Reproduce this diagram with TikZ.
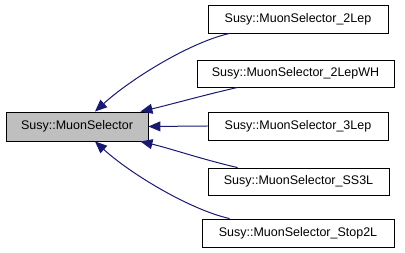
\documentclass[tikz,border=0pt]{standalone}
\usepackage{fontspec}
\setmainfont{Liberation Sans}
\usetikzlibrary{arrows.meta}
\definecolor{edgeblue}{HTML}{191970}
\definecolor{basefill}{HTML}{BFBFBF}
\begin{document}
\begin{tikzpicture}[x=1pt,y=-1pt,
  classbox/.style={draw=black,line width=0.9pt,rectangle,inner sep=0pt,minimum height=28pt,
    font=\fontsize{12.5}{14}\selectfont},
  inherit/.style={draw=edgeblue,line width=1pt,
    -{Triangle[length=12pt,width=10pt]},fill=none}]
\useasboundingbox (0,0) rectangle (405,253);
\node[classbox,fill=basefill,minimum width=142pt,minimum height=29pt] (base) at (77,126.5) {Susy::MuonSelector};
\node[classbox,minimum width=180pt] (c1) at (298,19) {Susy::MuonSelector\_2Lep};
\node[classbox,minimum width=197pt,minimum height=27pt] (c2) at (295.5,73.5) {Susy::MuonSelector\_2LepWH};
\node[classbox,minimum width=180pt] (c3) at (298,126) {Susy::MuonSelector\_3Lep};
\node[classbox,minimum width=181pt,minimum height=27pt] (c4) at (298.5,181.5) {Susy::MuonSelector\_SS3L};
\node[classbox,minimum width=192pt] (c5) at (298,233) {Susy::MuonSelector\_Stop2L};
% inheritance arrows, child to base class
\draw[inherit] ([xshift=22pt]c1.south west) .. controls +(-40,9) and +(35,-32) .. ([xshift=18pt]base.north);
\draw[inherit] ([xshift=41pt]c2.south west) .. controls +(-35,8) and +(30,-7) .. ([xshift=-8pt]base.north east);
\draw[inherit] (c3.west) -- (base.east);
\draw[inherit] ([xshift=30pt]c4.north west) .. controls +(-35,-8) and +(30,7) .. ([xshift=-8pt]base.south east);
\draw[inherit] ([xshift=28pt]c5.north west) .. controls +(-40,-9) and +(35,32) .. ([xshift=18pt]base.south);
\end{tikzpicture}
\end{document}
